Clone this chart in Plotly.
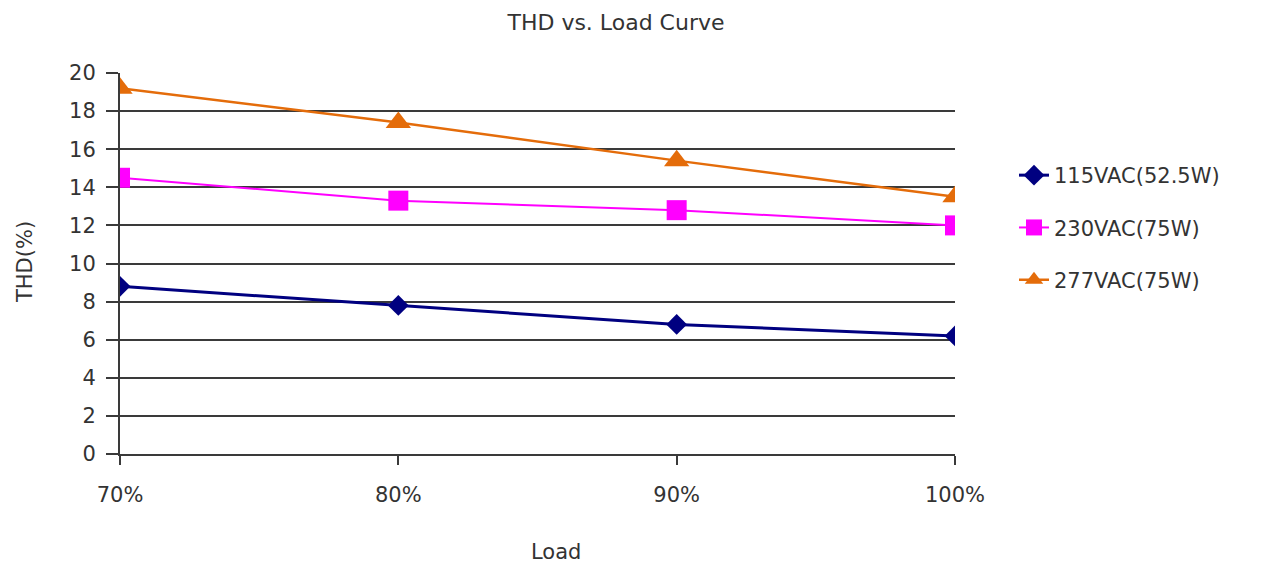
import plotly.graph_objects as go

load = [70, 80, 90, 100]
load_labels = ["70%", "80%", "90%", "100%"]
thd_115 = [8.8, 7.8, 6.8, 6.2]
thd_230 = [14.5, 13.3, 12.8, 12.0]
thd_277 = [19.2, 17.4, 15.4, 13.5]
names = ["115VAC(52.5W)", "230VAC(75W)", "277VAC(75W)"]
y_ticks = list(range(0, 21, 2))

FONT = "DejaVu Sans"
TXT = "#333333"
AX = "#3a3a3a"

# page has an 8px body margin; figure coordinates = page coordinates - 8
W, H = 1264, 557
PL, PR, PT, PB = 120 - 8, 955 - 8, 73 - 8, 454 - 8
pw, ph = PR - PL, PB - PT


def px(x):
    return (x - 8 - PL) / pw


def py(y):
    return (PB - (y - 8)) / ph


fig = go.Figure()
fig.add_trace(go.Scatter(x=load, y=thd_115, name=names[0], mode="lines+markers",
                         line=dict(color="#000080", width=3),
                         marker=dict(symbol="diamond", size=16, color="#000080"),
                         legendgroup="a"))
fig.add_trace(go.Scatter(x=load, y=thd_230, name=names[1], mode="lines+markers",
                         line=dict(color="#FF00FF", width=2),
                         marker=dict(symbol="square", size=20, color="#FF00FF"),
                         legendgroup="b"))
fig.add_trace(go.Scatter(x=load, y=thd_277, name=names[2], mode="lines+markers",
                         line=dict(color="#E46C0A", width=2.5),
                         marker=dict(symbol="triangle-up", size=22, color="#E46C0A"),
                         legendgroup="c"))

fig.update_layout(
    width=W, height=H,
    margin=dict(l=PL, r=W - PR, t=PT, b=H - PB, autoexpand=False),
    paper_bgcolor="white", plot_bgcolor="white",
    font=dict(family=FONT, size=21, color=TXT),
    title=dict(text="THD vs. Load Curve", x=px(616), xref="paper", xanchor="center",
               y=1 - (22 - 8) / H, yanchor="middle", font=dict(size=22, color=TXT)),
    showlegend=True,
    legend=dict(x=px(1014), xanchor="left", y=py(155), yanchor="top",
                font=dict(size=21, color=TXT), tracegroupgap=22,
                bgcolor="rgba(0,0,0,0)"),
    xaxis=dict(range=[70, 100], tickvals=load, ticktext=load_labels,
               showgrid=False, zeroline=False, showline=True, linecolor=AX, linewidth=2,
               ticks="outside", ticklen=9, tickwidth=2, tickcolor=AX,
               ticklabelstandoff=12, tickfont=dict(size=21, color=TXT)),
    yaxis=dict(range=[0, 20], tickvals=y_ticks,
               showgrid=True, gridcolor=AX, gridwidth=1.5, zeroline=False,
               showline=True, linecolor=AX, linewidth=2,
               ticks="outside", ticklen=12, tickwidth=1.5, tickcolor=AX,
               ticklabelstandoff=6, tickfont=dict(size=21, color=TXT)),
    annotations=[
        dict(text="THD(%)", xref="paper", yref="paper", x=px(25), y=py(262),
             xanchor="center", yanchor="middle", textangle=-90, showarrow=False,
             font=dict(size=21, color=TXT)),
        dict(text="Load", xref="paper", yref="paper", x=px(556), y=py(552),
             xanchor="center", yanchor="middle", showarrow=False,
             font=dict(size=21, color=TXT)),
    ],
)

fig.write_html("out.html")
